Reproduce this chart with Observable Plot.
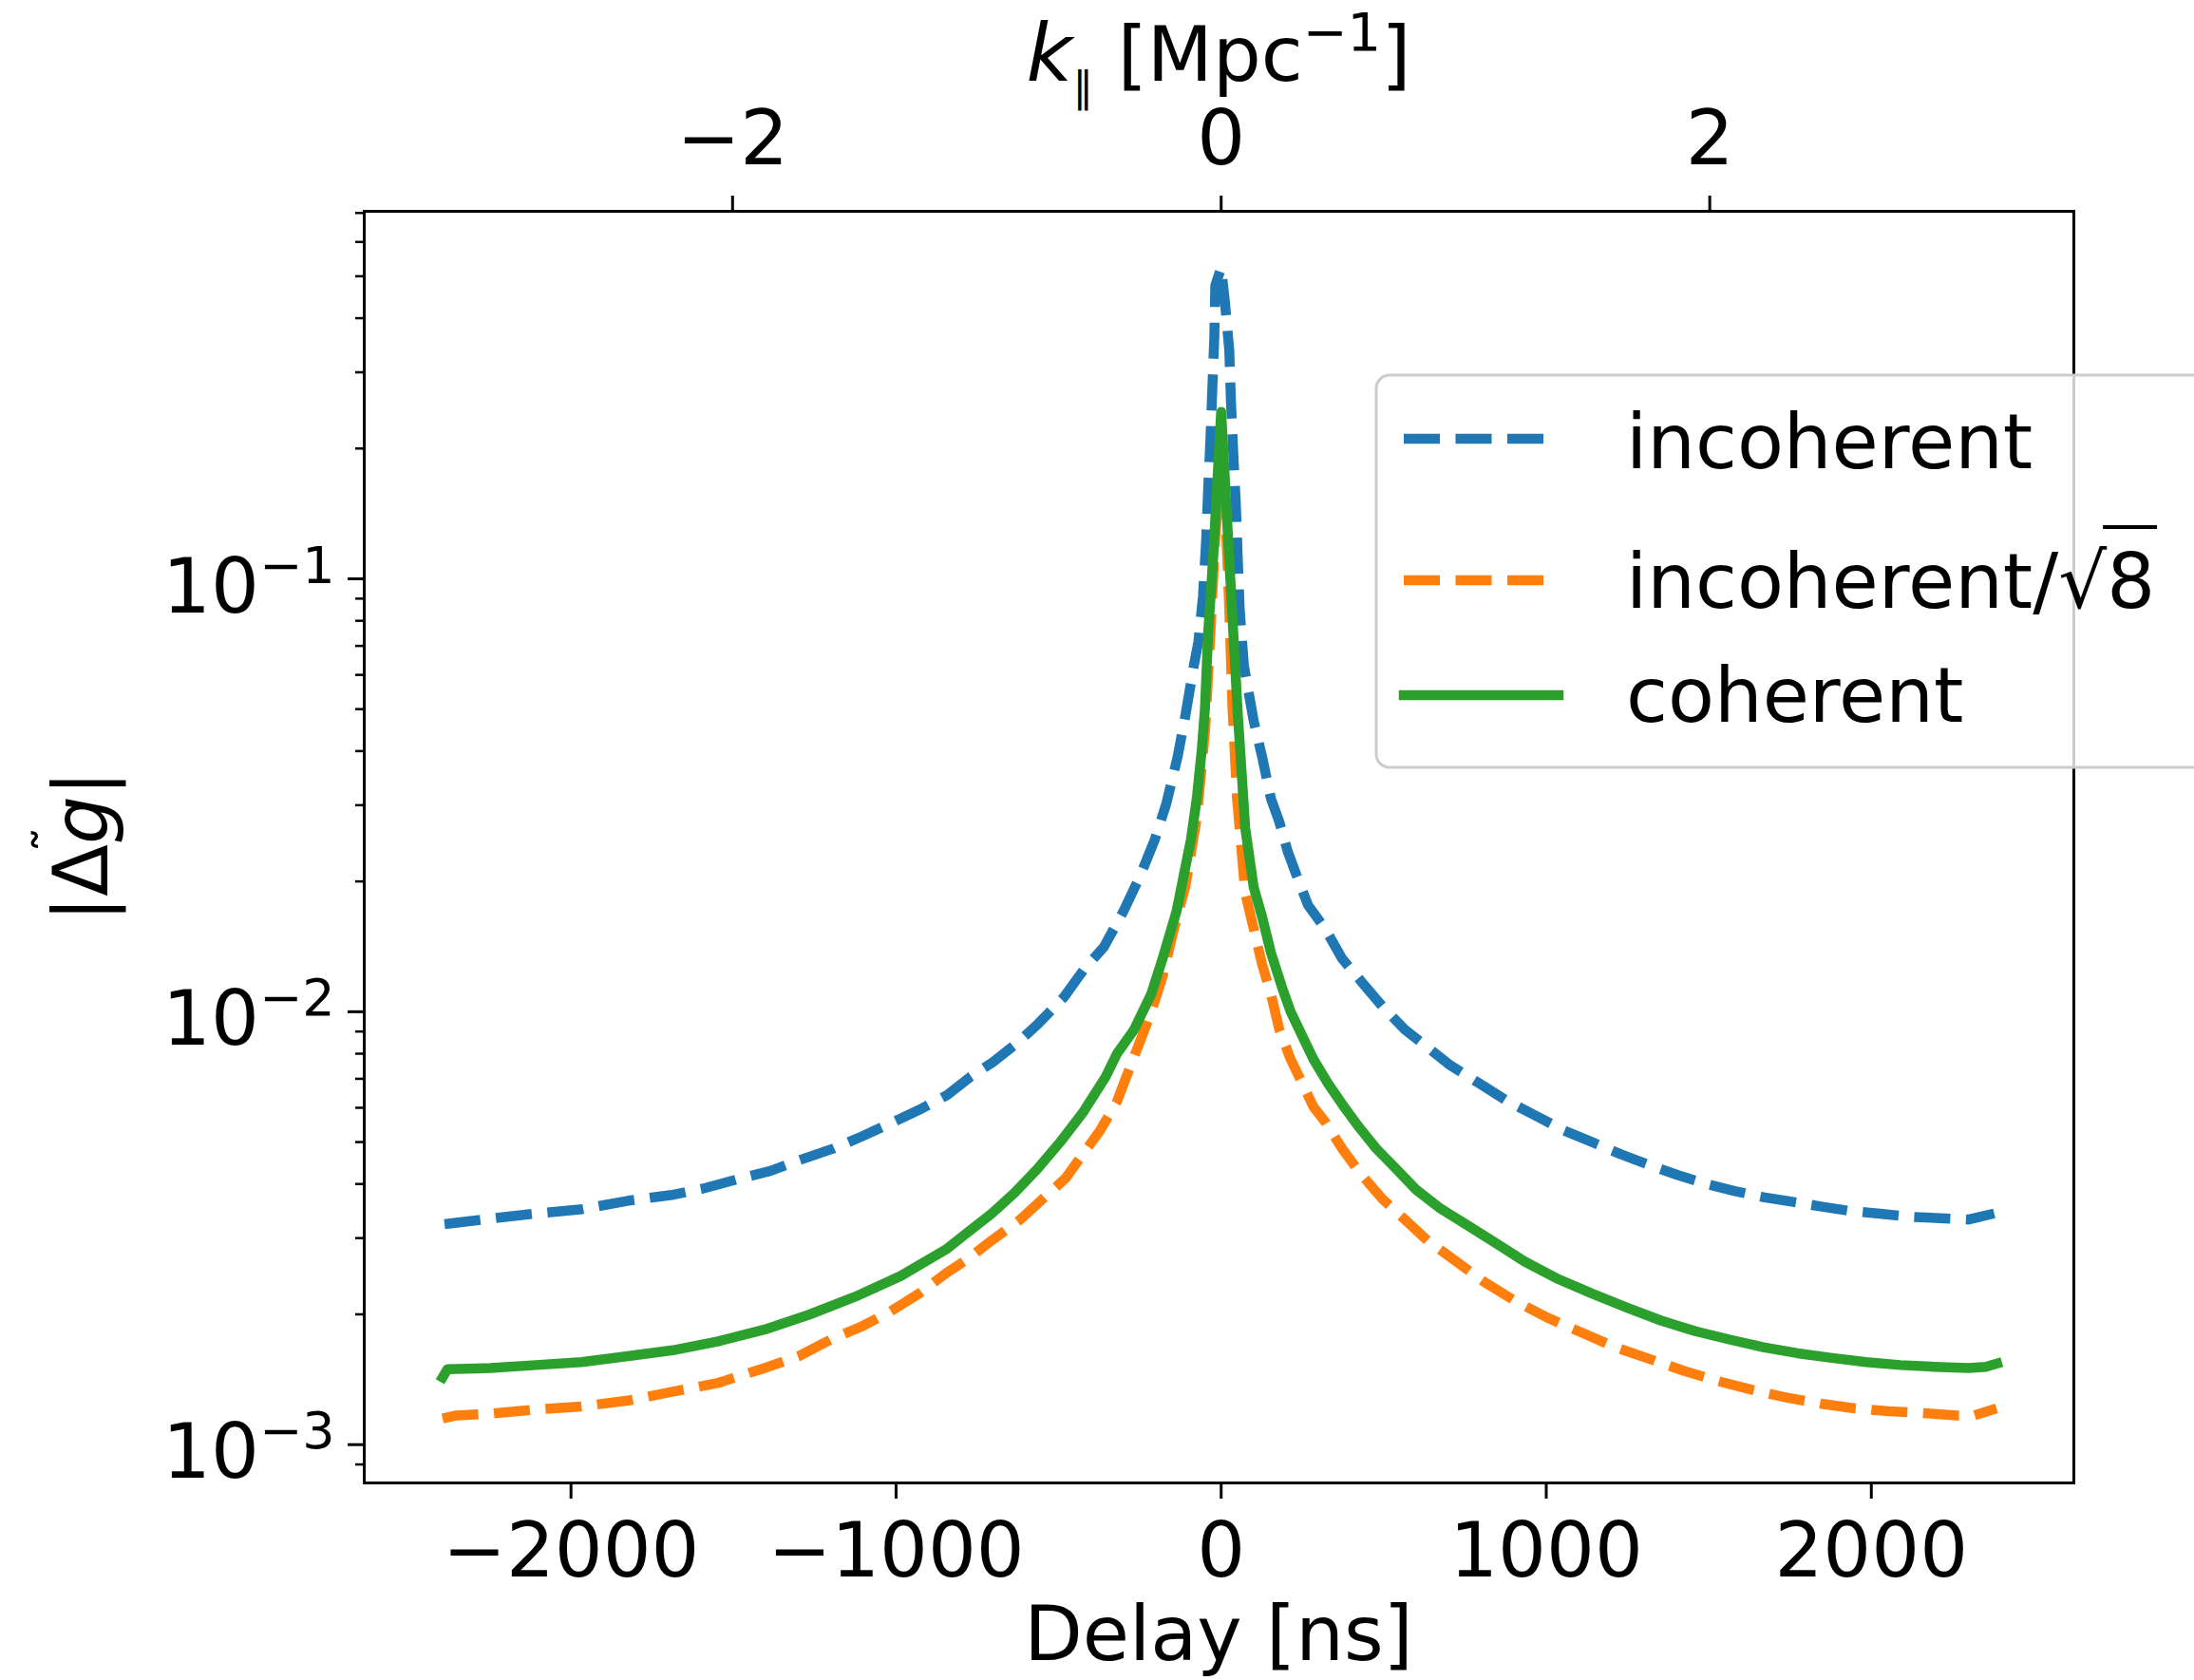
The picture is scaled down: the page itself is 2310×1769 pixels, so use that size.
<!DOCTYPE html>
<html><head><meta charset="utf-8">
<script src="https://cdn.jsdelivr.net/npm/d3@7"></script>
<script src="https://cdn.jsdelivr.net/npm/@observablehq/plot@0.6"></script>
<style>html,body{margin:0;padding:0;background:#fff;} #chart{width:2310px;height:1769px;overflow:hidden;}</style>
</head><body><div id="chart"></div>
<script>
const seriesNames = ["incoherent", "incoherent/√8", "coherent"];
const seriesColors = ["#1f77b4", "#ff7f0e", "#2ca02c"];

const delayIncoherent = [-2389,-2245,-2105,-1965,-1824,-1684,-1596,-1473,-1386,-1298,-1193,-1106,-1018,-930,-843,-773,-703,-633,-563,-484,-423,-361,-300,-248,-204,-169,-134,-110,-97,-84,-70,-56,-46,-40,-33,-27,-21,-18,0,11,25,30,37,45,51,57,70,100,126,153,179,205,232,267,320,372,433,495,565,635,705,793,880,968,1056,1143,1231,1319,1406,1494,1582,1668,1756,1844,1931,2019,2124,2229,2299,2378];
const valueIncoherent = [0.00323,0.00333,0.00342,0.00350,0.00366,0.00378,0.00390,0.00413,0.00429,0.00454,0.00483,0.00515,0.00552,0.00593,0.00642,0.00706,0.00764,0.00840,0.00938,0.0108,0.0125,0.0141,0.0171,0.0207,0.0250,0.0302,0.0388,0.0484,0.0552,0.063,0.0716,0.091,0.1235,0.1615,0.2105,0.277,0.3625,0.476,0.523,0.44,0.337,0.258,0.197,0.150,0.112,0.085,0.063,0.047,0.0388,0.0311,0.02744,0.02342,0.02065,0.01764,0.01555,0.01327,0.0117,0.01031,0.00909,0.00827,0.00752,0.00684,0.00622,0.00575,0.00531,0.00499,0.00468,0.00442,0.00419,0.0040,0.00385,0.00373,0.00364,0.00355,0.00347,0.00342,0.00336,0.00333,0.00331,0.00342];

const delayScaled = [-2395,-2353,-2248,-2108,-1968,-1825,-1687,-1547,-1404,-1299,-1194,-1106,-1018,-930,-846,-776,-706,-618,-548,-478,-426,-373,-320,-285,-250,-215,-180,-145,-110,-75,-49,-33,-18,0,12,25,35,49,74,100,126,153,179,214,249,284,320,372,425,495,565,635,723,810,898,1003,1108,1213,1319,1424,1529,1635,1740,1844,1949,2054,2159,2264,2317,2385];
const valueScaled = [0.001149,0.001168,0.001179,0.001205,0.001225,0.001264,0.001325,0.001389,0.001503,0.001601,0.00176,0.001875,0.002029,0.002231,0.00249,0.002696,0.002963,0.00331,0.0037,0.00413,0.00468,0.00531,0.00622,0.00729,0.00853,0.00999,0.01208,0.01556,0.0195,0.028,0.045,0.075,0.125,0.185,0.15,0.085,0.05,0.031,0.0188,0.01556,0.01286,0.01099,0.00909,0.00776,0.00684,0.00603,0.00557,0.00483,0.00426,0.0037,0.00331,0.00296,0.00265,0.002375,0.002161,0.001966,0.001816,0.001679,0.001576,0.00148,0.001402,0.001337,0.001284,0.001244,0.001213,0.001194,0.001183,0.001168,0.001168,0.001213];

const delayCoherent = [-2395,-2380,-2248,-2108,-1968,-1825,-1687,-1547,-1404,-1267,-1126,-986,-846,-776,-706,-636,-566,-496,-426,-356,-320,-268,-215,-180,-137,-93,-75,-60,-50,-40,-24,0,24,51,74,100,126,153,188,214,249,284,328,372,425,477,530,600,670,758,845,933,1038,1143,1248,1353,1459,1564,1668,1773,1879,1984,2089,2194,2299,2352,2387];
const valueCoherent = [0.00143,0.001494,0.001503,0.001527,0.001551,0.001601,0.001652,0.001733,0.001845,0.001997,0.002196,0.002452,0.002826,0.003108,0.003416,0.003815,0.00433,0.00499,0.00584,0.00706,0.00801,0.00909,0.01099,0.01328,0.0171,0.0250,0.0311,0.040,0.050,0.075,0.1138,0.243,0.1138,0.049,0.0266,0.0194,0.01656,0.0137,0.01134,0.00999,0.00881,0.00776,0.00684,0.00612,0.0054,0.00483,0.0044,0.00388,0.00353,0.00321,0.00292,0.00265,0.00241,0.00223,0.002074,0.001935,0.001828,0.001749,0.001679,0.001626,0.001586,0.001551,0.001527,0.001513,0.001503,0.001513,0.00154];

const xTicks = [-2000, -1000, 0, 1000, 2000];
const kTicks = [-2, 0, 2];
const nsPerInvMpc = 751.5;
const yMajorTicks = [0.001, 0.01, 0.1];
const yMinorTicks = [0.0009,0.002,0.003,0.004,0.005,0.006,0.007,0.008,0.009,0.02,0.03,0.04,0.05,0.06,0.07,0.08,0.09,0.2,0.3,0.4,0.5,0.6,0.7];

const toRows = (ds, vs) => ds.map((d, i) => ({delay: d, value: vs[i]}));
const rowsInc = toRows(delayIncoherent, valueIncoherent);
const rowsScaled = toRows(delayScaled, valueScaled);
const rowsCoh = toRows(delayCoherent, valueCoherent);

const fmt = d => d < 0 ? "\u2212" + Math.abs(d) : String(d);
const FONT = "'DejaVu Sans', sans-serif";
const LW = 10.5;
const DASH = "38,16.5";

const plot = Plot.plot({
  width: 2310, height: 1769,
  marginLeft: 383, marginRight: 127, marginTop: 222, marginBottom: 208,
  style: {fontFamily: FONT, fontSize: "80px", background: "white", color: "black"},
  x: {domain: [-2636, 2623]},
  y: {type: "log", domain: [8.157e-4, 0.7063]},
  marks: [
    Plot.line(rowsInc, {x: "delay", y: "value", stroke: seriesColors[0], strokeWidth: LW, strokeDasharray: DASH, strokeLinejoin: "round", strokeLinecap: "butt"}),
    Plot.line(rowsScaled, {x: "delay", y: "value", stroke: seriesColors[1], strokeWidth: LW, strokeDasharray: DASH, strokeLinejoin: "round", strokeLinecap: "butt"}),
    Plot.line(rowsCoh, {x: "delay", y: "value", stroke: seriesColors[2], strokeWidth: LW, strokeLinejoin: "round", strokeLinecap: "square"}),
    Plot.frame({stroke: "black", strokeWidth: 3}),
    Plot.axisX({anchor: "bottom", ticks: xTicks, tickFormat: fmt, tickSize: 17, tickPadding: 25, strokeWidth: 3, label: null}),
    Plot.axisX({anchor: "top", ticks: kTicks.map(k => k * nsPerInvMpc), tickFormat: d => fmt(Math.round(d / nsPerInvMpc)), tickSize: 17, tickPadding: 33, strokeWidth: 3, label: null}),
    Plot.axisY({anchor: "left", ticks: yMinorTicks, tickFormat: () => "", tickSize: 9, strokeWidth: 2.5, label: null}),
    Plot.axisY({anchor: "left", ticks: yMajorTicks, tickFormat: d => "10^\u2212" + Math.round(-Math.log10(d)), tickSize: 17, tickPadding: 14, strokeWidth: 3, label: null})
  ]
});
document.getElementById("chart").appendChild(plot);

const svg = d3.select(plot);
// superscripts for log tick labels
svg.selectAll('g[aria-label="y-axis tick label"] text').each(function() {
  const t = this.textContent;
  if (!t.includes("^")) return;
  const [base, exp] = t.split("^");
  const sel = d3.select(this);
  sel.text("").attr("y", 35);
  sel.append("tspan").text(base);
  sel.append("tspan").attr("font-size", 54).attr("dy", -31).text(exp);
});

// axis titles
svg.append("text").attr("x", 1283).attr("y", 1748).attr("text-anchor", "middle")
  .attr("font-family", FONT).attr("font-size", 80).attr("fill", "black").text("Delay [ns]");

const tt = svg.append("text").attr("x", 1283).attr("y", 85).attr("text-anchor", "middle")
  .attr("font-family", FONT).attr("font-size", 80).attr("fill", "black");
tt.append("tspan").attr("font-style", "italic").attr("font-size", 84).text("k");
tt.append("tspan").attr("font-size", 44).attr("dy", 22).text("\u2225");
tt.append("tspan").attr("dy", -22).text(" [Mpc");
tt.append("tspan").attr("font-size", 56).attr("dy", -32).text("\u22121");
tt.append("tspan").attr("dy", 32).text("]");

const yl = svg.append("text").attr("transform", "translate(113,891) rotate(-90)").attr("text-anchor", "middle")
  .attr("font-family", FONT).attr("font-size", 80).attr("fill", "black");
yl.append("tspan").text("|\u0394");
yl.append("tspan").attr("font-style", "italic").text("g");
yl.append("tspan").text("|");
svg.append("text").attr("transform", "translate(113,891) rotate(-90)").attr("x", 7).attr("y", -38)
  .attr("text-anchor", "middle").attr("font-family", FONT).attr("font-size", 56).attr("fill", "black").text("\u02DC");

// legend
const lg = svg.append("g").attr("text-anchor", "start");
lg.append("rect").attr("x", 1449).attr("y", 395).attr("width", 900).attr("height", 413).attr("rx", 14)
  .attr("fill", "white").attr("fill-opacity", 0.8).attr("stroke", "#cccccc").attr("stroke-width", 3);
const handleY = [462, 611, 732];
const textY = [493, 640, 760];
seriesNames.forEach((name, i) => {
  const ln = lg.append("line").attr("x1", 1478).attr("x2", 1641).attr("y1", handleY[i]).attr("y2", handleY[i])
    .attr("stroke", seriesColors[i]).attr("stroke-width", LW);
  if (i < 2) ln.attr("stroke-dasharray", DASH); else ln.attr("stroke-linecap", "square");
  const tx = lg.append("text").attr("x", 1712).attr("y", textY[i]).attr("text-anchor", "start")
    .attr("font-family", FONT).attr("font-size", 80).attr("fill", "black");
  if (name.includes("√")) {
    const [a, b] = name.split("√");
    tx.append("tspan").text(a);
    tx.append("tspan").text("√");
    tx.append("tspan").text(b);
    const node = tx.node();
    const n = a.length;
    const e1 = node.getExtentOfChar(n);
    const e2 = node.getExtentOfChar(n + 1);
    lg.append("line").attr("x1", e1.x + e1.width - 4).attr("x2", e2.x + e2.width + 2)
      .attr("y1", 555).attr("y2", 555).attr("stroke", "black").attr("stroke-width", 4);
  } else {
    tx.text(name);
  }
});
</script>
</body></html>
